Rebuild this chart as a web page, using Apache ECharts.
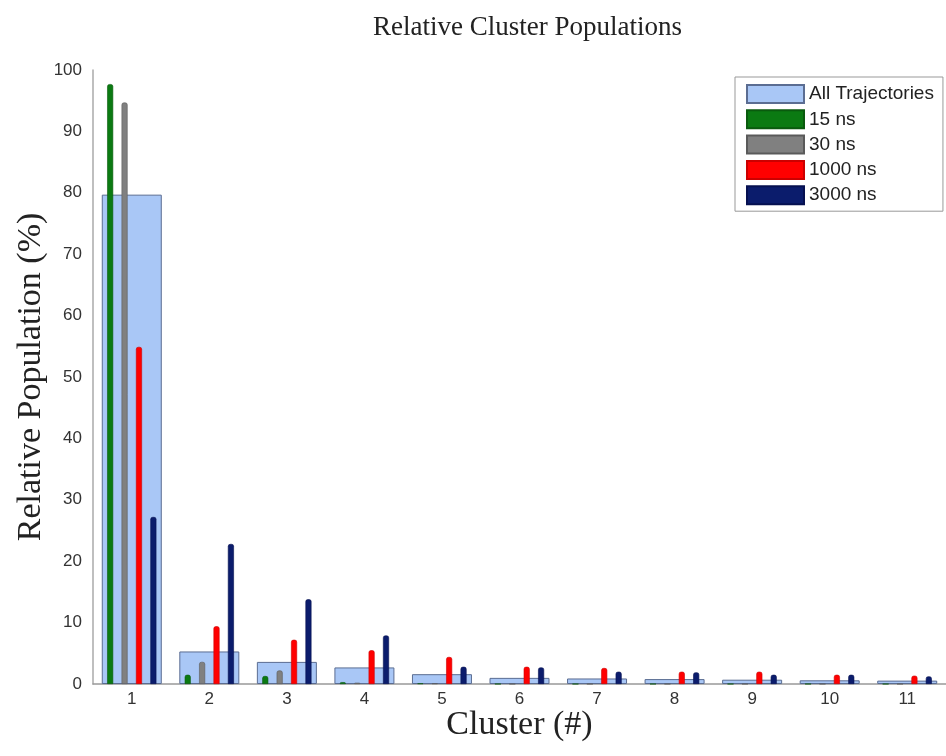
<!DOCTYPE html>
<html>
<head>
<meta charset="utf-8">
<script src="https://cdn.jsdelivr.net/npm/echarts@6/dist/echarts.min.js"></script>
<style>html,body{margin:0;padding:0;background:#fff}#c{width:946px;height:756px}</style>
</head>
<body>
<div id="c"></div>
<script>
const clusters = ['1','2','3','4','5','6','7','8','9','10','11'];
const allTraj = [79.7, 5.3, 3.6, 2.7, 1.6, 1.0, 0.9, 0.8, 0.7, 0.6, 0.55];
const ns15   = [97.7, 1.5, 1.3, 0.3, 0.1, 0, 0, 0, 0, 0, 0];
const ns30   = [94.7, 3.6, 2.2, 0.2, 0.1, 0, 0, 0, 0, 0, 0];
const ns1000 = [54.9, 9.4, 7.2, 5.5, 4.4, 2.8, 2.6, 2.0, 2.0, 1.5, 1.35];
const ns3000 = [27.2, 22.8, 13.8, 7.9, 2.8, 2.7, 2.0, 1.9, 1.5, 1.5, 1.25];
const yTicks = [0,10,20,30,40,50,60,70,80,90,100];

const chart = echarts.init(document.getElementById('c'), null, {renderer:'canvas'});
const sans = 'Liberation Sans, Arial, sans-serif';
const serif = 'Liberation Serif, Times New Roman, serif';
function narrow(name, data, color, border){
  return {name, type:'bar', xAxisIndex:1, data, barWidth:6, barGap:'140%', z:3,
    itemStyle:{color, borderColor:border, borderWidth:0.6, borderRadius:[2,2,0,0]}};
}
chart.setOption({
  animation:false,
  title:{text:'Relative Cluster Populations', left:368, top:9,
    textStyle:{fontFamily:serif, fontSize:27, fontWeight:'normal', color:'#222'}},
  grid:{left:93, top:70, width:861, height:614},
  legend:{orient:'vertical', left:735, top:77, padding:[7,9,6,11],
    itemWidth:57, itemHeight:18, itemGap:5.3,
    borderColor:'#999', borderWidth:1, backgroundColor:'#fff',
    icon:'rect',
    textStyle:{fontFamily:sans, fontSize:19, lineHeight:18, color:'#222'},
    data:['All Trajectories','15 ns','30 ns','1000 ns','3000 ns']},
  xAxis:[
    {type:'category', data:clusters, name:'Cluster (#)', nameLocation:'middle', nameGap:24,
     nameMoveOverlap:false,
     nameTextStyle:{fontFamily:serif, fontSize:34, color:'#222'},
     axisLine:{lineStyle:{color:'#999', width:1.5}}, axisTick:{show:false},
     axisLabel:{fontFamily:sans, fontSize:17, color:'#333', margin:7}},
    {type:'category', data:clusters, show:false}
  ],
  yAxis:{type:'value', min:0, max:100, interval:10,
    name:'Relative Population (%)', nameLocation:'middle', nameGap:45,
    nameMoveOverlap:false,
    nameTextStyle:{fontFamily:serif, fontSize:34, color:'#222'},
    axisLine:{show:true, lineStyle:{color:'#aaa', width:1.5}}, axisTick:{show:false},
    splitLine:{show:false},
    axisLabel:{fontFamily:sans, fontSize:17, color:'#333', margin:11,
      formatter:v => yTicks.includes(v) ? String(v) : ''}},
  series:[
    {name:'All Trajectories', type:'bar', xAxisIndex:0, data:allTraj, barWidth:60, z:2,
     itemStyle:{color:'#a9c7f6', borderColor:'#5b6d92', borderWidth:1}},
    narrow('15 ns', ns15, '#0b7a12', '#0a5a0e'),
    narrow('30 ns', ns30, '#808080', '#5a5a5a'),
    narrow('1000 ns', ns1000, '#ff0000', '#cc0000'),
    narrow('3000 ns', ns3000, '#0b1c6c', '#061050')
  ]
});
</script>
</body>
</html>
